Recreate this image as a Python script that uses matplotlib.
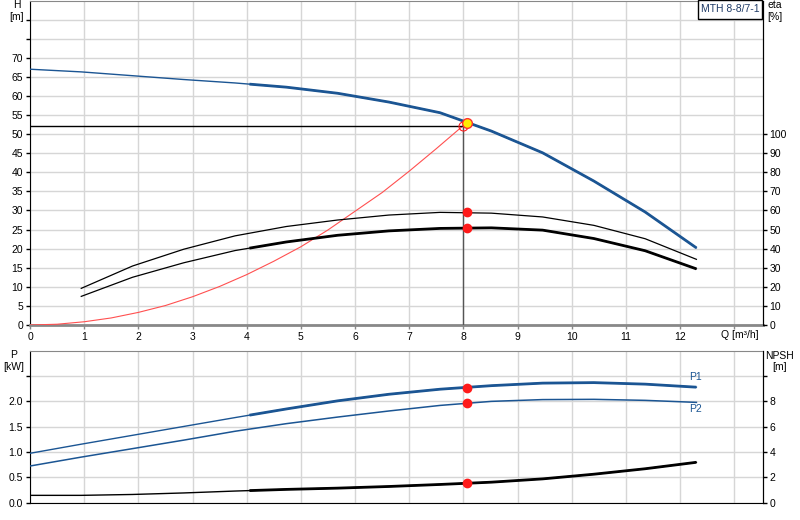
import matplotlib
matplotlib.use("Agg")
import matplotlib.pyplot as plt
from matplotlib.patches import Rectangle
import numpy as np

plt.rcParams['font.family'] = ['Liberation Sans', 'DejaVu Sans']

# ---------------- data ----------------
q = [0, 0.946, 1.892, 2.838, 3.785, 4.731, 5.677, 6.623, 7.569, 8.515, 9.462, 10.408, 11.354, 12.3]
head = [67.0, 66.3, 65.3, 64.3, 63.4, 62.3, 60.7, 58.4, 55.6, 50.8, 45.1, 37.7, 29.6, 20.2]
eta_q = q[1:]
eta1 = [19.2, 30.9, 39.7, 46.7, 51.6, 55.0, 57.6, 59.0, 58.6, 56.6, 52.2, 45.2, 34.4]
eta2 = [15.0, 25.0, 32.6, 39.0, 43.5, 47.0, 49.3, 50.6, 50.9, 49.7, 45.3, 38.9, 29.4]
p1 = [0.975, 1.155, 1.33, 1.505, 1.68, 1.85, 2.01, 2.14, 2.24, 2.31, 2.36, 2.37, 2.34, 2.28]
p2 = [0.724, 0.90, 1.067, 1.235, 1.41, 1.56, 1.69, 1.81, 1.92, 2.0, 2.035, 2.04, 2.02, 1.98]
npsh = [0.58, 0.58, 0.65, 0.77, 0.92, 1.05, 1.15, 1.28, 1.44, 1.62, 1.88, 2.25, 2.68, 3.19]

sys_q = [0, 0.5, 1, 1.5, 2, 2.5, 3, 3.5, 4, 4.5, 5, 5.5, 6, 6.5, 7, 7.5, 8.06]
sys_h = [0, 0.2, 0.85, 1.85, 3.3, 5.1, 7.4, 10.1, 13.2, 16.7, 20.5, 24.9, 29.8, 34.7, 40.3, 46.2, 53.0]

duty_q, duty_h = 8.0, 52.2
op_q, op_h = 8.06, 53.0
op_eta1, op_eta2 = 59.0, 50.9
op_p1, op_p2, op_npsh = 2.27, 1.97, 1.53

x_ticks = list(range(0, 13))
h_ticks = list(range(0, 75, 5))
eta_ticks = list(range(0, 110, 10))
p_ticks = [0.0, 0.5, 1.0, 1.5, 2.0]
npsh_ticks = [0, 2, 4, 6, 8]
title_text = "MTH 8-8/7-1"

# ---------------- style ----------------
BLUE = '#1b5593'
GRID = '#d6d6d6'
FS = 7.5
W, H = 800, 520
THICK_FROM = 4.05

fig = plt.figure(figsize=(8, 5.2), dpi=100)

def fx(px):
    return px / W

def fy(py):
    return 1 - py / H

xmax = 13.52
ax = fig.add_axes([fx(30), fy(325), fx(762.5) - fx(30), fy(0.5) - fy(325)])
axb = fig.add_axes([fx(30), fy(502.7), fx(762.5) - fx(30), fy(350.7) - fy(502.7)])

def split(xs, ys, q0=THICK_FROM):
    xs = np.asarray(xs, float); ys = np.asarray(ys, float)
    m = xs > q0
    y0 = np.interp(q0, xs, ys)
    return np.concatenate([[q0], xs[m]]), np.concatenate([[y0], ys[m]])

for a in (ax, axb):
    a.set_xlim(0, xmax)
    a.set_xticks(np.arange(0, 14, 1))
    a.grid(True, color=GRID, lw=1.0, zorder=0)
    a.set_axisbelow(True)
    a.tick_params(axis='both', length=3, width=1, pad=2, labelsize=FS, colors='black')
    a.tick_params(axis='x', color='#888888')
    a.spines['left'].set_color('black')
    a.spines['right'].set_color('black')
    a.spines['top'].set_color('#888888')

# ---- top panel ----
ax.set_ylim(0, 85)
ax.set_yticks(np.arange(0, 85, 5))
ax.set_yticklabels([str(v) if v in h_ticks else '' for v in range(0, 85, 5)])
ax.set_xticklabels([str(v) if v in x_ticks else '' for v in range(0, 14)])
ax.spines['bottom'].set_color('#888888')
ax.spines['bottom'].set_linewidth(2)

ax.plot(q, head, color=BLUE, lw=1.0, zorder=4)
xs, ys = split(q, head)
ax.plot(xs, ys, color=BLUE, lw=2.0, zorder=4, solid_capstyle='butt')

ax.plot(sys_q, sys_h, color='#ff5050', lw=0.8, zorder=3)

ax.plot([0, duty_q], [duty_h, duty_h], color='black', lw=1.0, zorder=3)
ax.plot([duty_q, duty_q], [0, duty_h], color='#555555', lw=1.0, zorder=3)

axe = ax.twinx()
axe.set_xlim(0, xmax)
axe.set_ylim(0, 170)
axe.set_yticks(eta_ticks)
axe.tick_params(axis='y', length=3, width=1, pad=2, labelsize=FS)
for s in ('left', 'top', 'bottom'):
    axe.spines[s].set_visible(False)
axe.plot(eta_q, eta1, color='black', lw=0.9, zorder=4)
axe.plot(eta_q, eta2, color='black', lw=0.9, zorder=4)
xs, ys = split(eta_q, eta2)
axe.plot(xs, ys, color='black', lw=2.0, zorder=4, solid_capstyle='butt')
axe.plot([op_q, op_q], [op_eta1, op_eta2], 'o', color='#ff1a1a', ms=6, mec='#ff1a1a', zorder=6)

# duty + operating points on top of everything
axe.plot(duty_q, duty_h * 2, 'o', mfc='none', mec='#ff2020', ms=6.5, mew=0.8, zorder=7)
axe.plot(op_q, op_h * 2, 'o', mfc='#ffee00', mec='#ff3030', ms=7, mew=1.0, zorder=8)

# ---- bottom panel ----
axb.set_ylim(0, 3.0)
axb.set_yticks(np.arange(0, 3.0, 0.5))
axb.set_yticklabels(['%.1f' % v if v in p_ticks else '' for v in np.arange(0, 3.0, 0.5)])
axb.set_xticklabels([])
axb.tick_params(axis='x', length=0)
axb.spines['bottom'].set_color('black')

axb.plot(q, p1, color=BLUE, lw=1.0, zorder=4)
xs, ys = split(q, p1)
axb.plot(xs, ys, color=BLUE, lw=2.0, zorder=4, solid_capstyle='butt')
axb.plot(q, p2, color=BLUE, lw=1.1, zorder=4)
axb.plot([op_q, op_q], [op_p1, op_p2], 'o', color='#ff1a1a', ms=6, zorder=6)

axn = axb.twinx()
axn.set_xlim(0, xmax)
axn.set_ylim(0, 12)
axn.set_yticks([0, 2, 4, 6, 8, 10])
axn.set_yticklabels([str(v) if v in npsh_ticks else '' for v in [0, 2, 4, 6, 8, 10]])
axn.tick_params(axis='y', length=3, width=1, pad=2, labelsize=FS)
for s in ('left', 'top', 'bottom'):
    axn.spines[s].set_visible(False)
axn.plot(q, npsh, color='black', lw=1.0, zorder=4)
xs, ys = split(q, npsh)
axn.plot(xs, ys, color='black', lw=2.0, zorder=4, solid_capstyle='butt')
axn.plot(op_q, op_npsh, 'o', color='#ff1a1a', ms=6, zorder=6)

# ---- labels ----
def ftext(px, py, s, **kw):
    kw.setdefault('fontsize', FS)
    kw.setdefault('ha', 'center')
    kw.setdefault('va', 'center')
    fig.text(fx(px), fy(py), s, **kw)

ftext(17, 5, 'H')
ftext(17, 17, '[m]')
ftext(775, 5, 'eta')
ftext(775, 17, '[%]')
ftext(14, 355, 'P')
ftext(14, 367, '[kW]')
ftext(779, 356, 'NPSH')
ftext(780, 367, '[m]')
ftext(739.5, 335, 'Q [m³/h]')
ftext(695, 377, 'P1', color=BLUE)
ftext(695, 409, 'P2', color=BLUE)

fig.patches.append(Rectangle((fx(697.7), fy(19.3)), fx(762.3) - fx(697.7), fy(0) - fy(19.3),
                             transform=fig.transFigure, facecolor='white', edgecolor='black',
                             lw=1.0, zorder=10))
ftext(730, 8.5, title_text, color='#1e3a66', zorder=11)

fig.savefig('out.png', dpi=100)
